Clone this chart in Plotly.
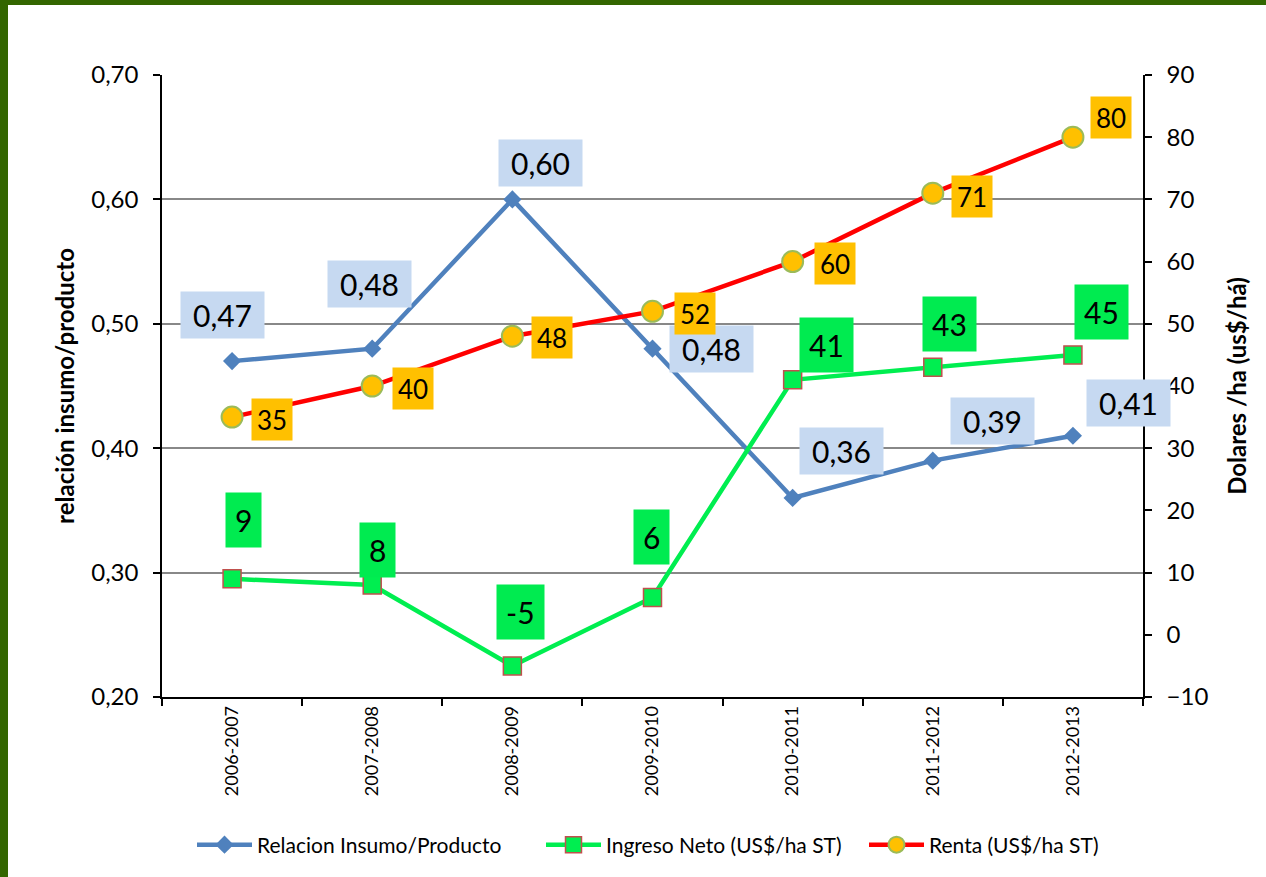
import plotly.graph_objects as go

# ---------------- data ----------------
categories = ["2006-2007", "2007-2008", "2008-2009", "2009-2010", "2010-2011", "2011-2012", "2012-2013"]
relacion = [0.47, 0.48, 0.60, 0.48, 0.36, 0.39, 0.41]
ingreso = [9, 8, -5, 6, 41, 43, 45]
renta = [35, 40, 48, 52, 60, 71, 80]
relacion_labels = ["0,47", "0,48", "0,60", "0,48", "0,36", "0,39", "0,41"]

# ---------------- label offsets (pixels, style) ----------------
rel_shift = [(-10, 46), (-3, 65), (28, 36), (59, 0), (49, 47), (60, 40), (56, 33)]
ing_shift = [(11, 59), (5, 35), (8, 54), (-1, 60), (34, 35), (17, 43), (29, 43)]
ren_shift = [(40, -2), (41, -2), (40, -1), (42, -2), (42, -2), (39, -3), (38, 20)]

FONT = "Lato"
BLUE = "#4F81BD"
GREEN = "#00EE50"
RED = "#FF0000"
BOX_BLUE = "#C6D9F1"
BOX_GREEN = "#00EB50"
BOX_ORANGE = "#FFC000"

fig = go.Figure()
fig.add_trace(go.Scatter(
    x=categories, y=relacion, name="Relacion Insumo/Producto", mode="lines+markers",
    line=dict(color=BLUE, width=4.5),
    marker=dict(symbol="diamond", size=14, color=BLUE),
    yaxis="y", legend="legend"))
fig.add_trace(go.Scatter(
    x=categories, y=ingreso, name="Ingreso Neto (US$/ha ST)", mode="lines+markers",
    line=dict(color=GREEN, width=4.5),
    marker=dict(symbol="square", size=18, color=GREEN, line=dict(color="#C0504D", width=1.5)),
    yaxis="y2", legend="legend2"))
fig.add_trace(go.Scatter(
    x=categories, y=renta, name="Renta (US$/ha ST)", mode="lines+markers",
    line=dict(color=RED, width=4.5),
    marker=dict(symbol="circle", size=21, color=BOX_ORANGE, line=dict(color="#9BBB59", width=2)),
    yaxis="y2", legend="legend3"))

annotations = []
for c, v, t, (dx, dy) in zip(categories, relacion, relacion_labels, rel_shift):
    annotations.append(dict(x=c, y=v, xref="x", yref="y", text=t, showarrow=False,
                            xshift=dx, yshift=dy, bgcolor=BOX_BLUE, width=83, height=46,
                            borderpad=0, font=dict(family=FONT, size=30, color="black")))
for c, v, (dx, dy) in zip(categories, ingreso, ing_shift):
    annotations.append(dict(x=c, y=v, xref="x", yref="y2", text=str(v), showarrow=False,
                            xshift=dx, yshift=dy, bgcolor=BOX_GREEN, height=36,
                            borderpad=9, font=dict(family=FONT, size=30, color="black")))
for c, v, (dx, dy) in zip(categories, renta, ren_shift):
    annotations.append(dict(x=c, y=v, xref="x", yref="y2", text=str(v), showarrow=False,
                            xshift=dx, yshift=dy, bgcolor=BOX_ORANGE, height=31,
                            borderpad=5, font=dict(family=FONT, size=26, color="black")))

# page border (dark green, left and top) drawn in paper coords
L, R, T, B = 162, 123, 75, 180
W, H = 1266, 877
pw, ph = W - L - R, H - T - B
def px(xp):
    return (xp - L) / pw
def py(yp):
    return (H - B - yp) / ph
shapes = [
    dict(type="rect", xref="paper", yref="paper", x0=px(0), x1=px(8), y0=py(H), y1=py(0),
         fillcolor="#336600", line=dict(width=0), layer="above"),
    dict(type="rect", xref="paper", yref="paper", x0=px(0), x1=px(W), y0=py(5), y1=py(0),
         fillcolor="#336600", line=dict(width=0), layer="above"),
]

def leg(xpix):
    return dict(orientation="h", x=px(xpix), xanchor="left", y=py(845), yanchor="middle",
                font=dict(family=FONT, size=21, color="black"), itemwidth=55,
                bgcolor="rgba(0,0,0,0)")

fig.update_layout(
    width=W, height=H,
    margin=dict(l=L, r=R, t=T, b=B),
    paper_bgcolor="white", plot_bgcolor="white",
    separators=",.",
    font=dict(family=FONT, color="black"),
    showlegend=True,
    legend=leg(192), legend2=leg(541), legend3=leg(864),
    annotations=annotations,
    shapes=shapes,
    xaxis=dict(type="category", categoryorder="array", categoryarray=categories,
               range=[-0.5, 6.5], tickangle=-90, ticks="outside", tickson="boundaries",
               ticklen=7, tickcolor="black", tickwidth=1.5, showline=True, linecolor="black",
               linewidth=1.5, showgrid=False, tickfont=dict(family=FONT, size=18, color="black")),
    yaxis=dict(range=[0.2, 0.7], dtick=0.1, tick0=0.2, tickformat=".2f", ticks="outside",
               ticklen=7, tickcolor="black", tickwidth=1.5, showline=True, linecolor="black",
               linewidth=1.5, showgrid=True, gridcolor="#888888", gridwidth=2, zeroline=False,
               ticklabelstandoff=10,
               tickfont=dict(family=FONT, size=24, color="black"),
               title=dict(text="<b>relación insumo/producto</b>", standoff=10,
                          font=dict(family=FONT, size=24, color="black"))),
    yaxis2=dict(range=[-10, 90], dtick=10, tick0=-10, overlaying="y", side="right",
                ticks="outside", ticklen=7, tickcolor="black", tickwidth=1.5, showline=True,
                linecolor="black", linewidth=1.5, showgrid=False, zeroline=False,
                ticklabelstandoff=10,
                tickfont=dict(family=FONT, size=24, color="black"),
                title=dict(text="<b>Dolares /ha (us$/há)</b>", standoff=22,
                           font=dict(family=FONT, size=24, color="black"))),
)

fig.write_html("out.html", config={"displayModeBar": False},
               post_script="document.body.style.margin='0';")
